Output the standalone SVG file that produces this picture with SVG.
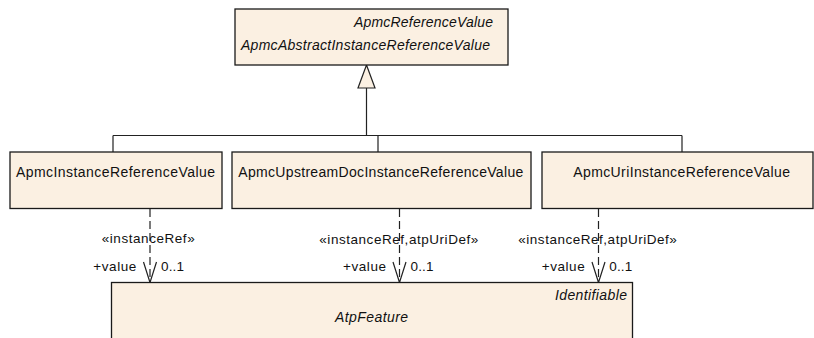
<svg xmlns="http://www.w3.org/2000/svg" width="814" height="338" viewBox="0 0 814 338">
  <style>
    .box { fill: #FBF0E2; stroke: #1a1a1a; stroke-width: 1.3; }
    .t { font-family: 'Liberation Sans', sans-serif; font-size: 14px; fill: #111; }
    .it { font-style: italic; }
    .lbl { font-family: 'Liberation Sans', sans-serif; font-size: 13.5px; fill: #111; }
    .line { fill: none; stroke: #222; stroke-width: 1.2; }
    .dash { fill: none; stroke: #222; stroke-width: 1.2; stroke-dasharray: 8 4; }
    .head { fill: none; stroke: #222; stroke-width: 1.2; }
    .tri { fill: #FBF0E2; stroke: #222; stroke-width: 1.2; }
  </style>

  <!-- connectors -->
  <g id="connectors">
    <!-- generalization tree -->
    <path class="line" d="M366.5,88 V135.5 M113,135.5 H682 M113,135.5 V152 M378,135.5 V152 M682,135.5 V152"/>
    <polygon class="tri" points="366.5,65 358,88 375,88"/>

    <!-- instanceRef associations -->
    <line class="dash" x1="150" y1="209" x2="150" y2="282"/>
    <polyline class="head" points="143.5,262 150,282.5 156.5,262"/>
    <text class="lbl" x="101.7" y="243" textLength="93" lengthAdjust="spacing">«instanceRef»</text>
    <text class="lbl" x="93.3" y="271" textLength="43" lengthAdjust="spacing">+value</text>
    <text class="lbl" x="161" y="271" textLength="23" lengthAdjust="spacing">0..1</text>

    <line class="dash" x1="399.5" y1="209" x2="399.5" y2="282"/>
    <polyline class="head" points="393,262 399.5,282.5 406,262"/>
    <text class="lbl" x="319.3" y="244" textLength="159" lengthAdjust="spacing">«instanceRef,atpUriDef»</text>
    <text class="lbl" x="343" y="271" textLength="43" lengthAdjust="spacing">+value</text>
    <text class="lbl" x="410.5" y="271" textLength="23" lengthAdjust="spacing">0..1</text>

    <line class="dash" x1="598.5" y1="209" x2="598.5" y2="282"/>
    <polyline class="head" points="592,262 598.5,282.5 605,262"/>
    <text class="lbl" x="518.3" y="244" textLength="158.5" lengthAdjust="spacing">«instanceRef,atpUriDef»</text>
    <text class="lbl" x="541.7" y="271" textLength="43" lengthAdjust="spacing">+value</text>
    <text class="lbl" x="609.3" y="271" textLength="23" lengthAdjust="spacing">0..1</text>
  </g>

  <!-- abstract parent class -->
  <g id="ApmcAbstractInstanceReferenceValue">
    <rect class="box" x="235" y="9" width="273" height="56"/>
    <text class="t it" x="354" y="27" textLength="139" lengthAdjust="spacing">ApmcReferenceValue</text>
    <text class="t it" x="241" y="50" textLength="249" lengthAdjust="spacing">ApmcAbstractInstanceReferenceValue</text>
  </g>

  <g id="ApmcInstanceReferenceValue">
    <rect class="box" x="10" y="152" width="212" height="56.5"/>
    <text class="t" x="16" y="177" textLength="199" lengthAdjust="spacing">ApmcInstanceReferenceValue</text>
  </g>

  <g id="ApmcUpstreamDocInstanceReferenceValue">
    <rect class="box" x="232" y="152" width="299" height="56.5"/>
    <text class="t" x="238.3" y="177" textLength="285" lengthAdjust="spacing">ApmcUpstreamDocInstanceReferenceValue</text>
  </g>

  <g id="ApmcUriInstanceReferenceValue">
    <rect class="box" x="542" y="152" width="271" height="56.5"/>
    <text class="t" x="573.3" y="177" textLength="216.7" lengthAdjust="spacing">ApmcUriInstanceReferenceValue</text>
  </g>

  <g id="AtpFeature">
    <rect class="box" x="111.5" y="282.5" width="521" height="70"/>
    <text class="t it" x="555" y="300" textLength="72" lengthAdjust="spacing">Identifiable</text>
    <text class="t it" x="335" y="322" textLength="73" lengthAdjust="spacing">AtpFeature</text>
  </g>
</svg>
